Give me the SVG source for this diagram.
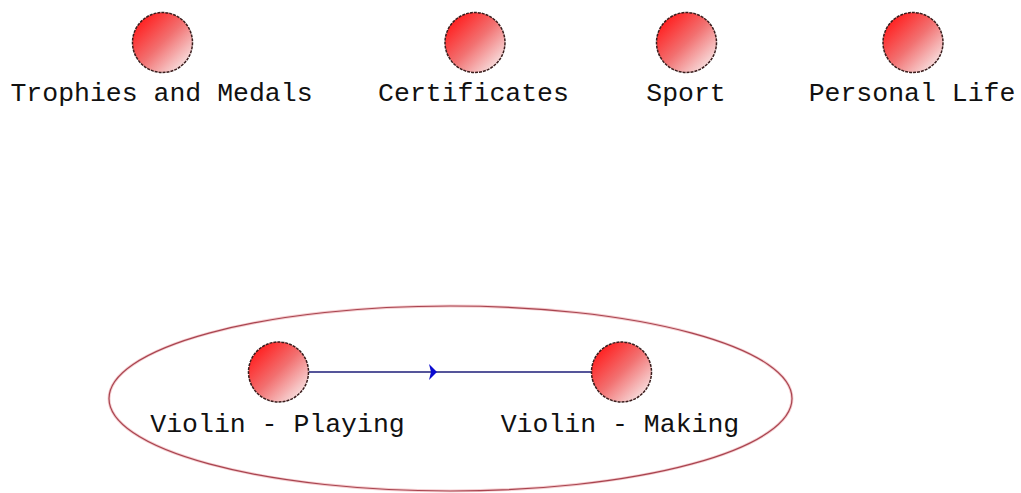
<svg xmlns="http://www.w3.org/2000/svg" width="1021" height="493" viewBox="0 0 1021 493">
<defs>
<linearGradient id="ball" x1="0.15" y1="0.15" x2="0.85" y2="0.85">
<stop offset="0" stop-color="#ff2424"/>
<stop offset="0.5" stop-color="#f27070"/>
<stop offset="1" stop-color="#f7d6d6"/>
</linearGradient>
<style>
.node circle{fill:url(#ball);stroke:#3a1c1c;stroke-width:1.5;stroke-dasharray:3 1}
.lbl{font-family:"Liberation Mono","Courier New",monospace;font-size:26.5px;fill:#111;text-anchor:middle}
.edge{stroke:#1c1c78;stroke-width:1.6;fill:none}
.head{fill:#0a0ad0}
</style>
</defs>
<rect width="1021" height="493" fill="#ffffff"/>
<g id="group-violin">
<ellipse cx="450.5" cy="398.5" rx="341.5" ry="92.5" fill="none" stroke="#f5cdd0" stroke-width="3"/>
<ellipse cx="450.5" cy="398.5" rx="341.5" ry="92.5" fill="none" stroke="#a8444f" stroke-width="1.2"/>
</g>
<g id="connectors">
<line class="edge" x1="309" y1="372" x2="591" y2="372"/>
<polygon class="head" points="429,364 437,372 429,380 431,372"/>
</g>
<g id="node-trophies" class="node"><circle cx="162.5" cy="42.5" r="30"/><text class="lbl" x="161.5" y="101">Trophies and Medals</text></g>
<g id="node-certificates" class="node"><circle cx="475" cy="42.5" r="30"/><text class="lbl" x="473.5" y="101">Certificates</text></g>
<g id="node-sport" class="node"><circle cx="686.5" cy="42.5" r="30"/><text class="lbl" x="686" y="101">Sport</text></g>
<g id="node-personal" class="node"><circle cx="913" cy="42.5" r="30"/><text class="lbl" x="912" y="101">Personal Life</text></g>
<g id="node-playing" class="node"><circle cx="278.5" cy="372" r="30"/><text class="lbl" x="277.5" y="432">Violin - Playing</text></g>
<g id="node-making" class="node"><circle cx="621.5" cy="372" r="30"/><text class="lbl" x="620" y="432">Violin - Making</text></g>
</svg>
